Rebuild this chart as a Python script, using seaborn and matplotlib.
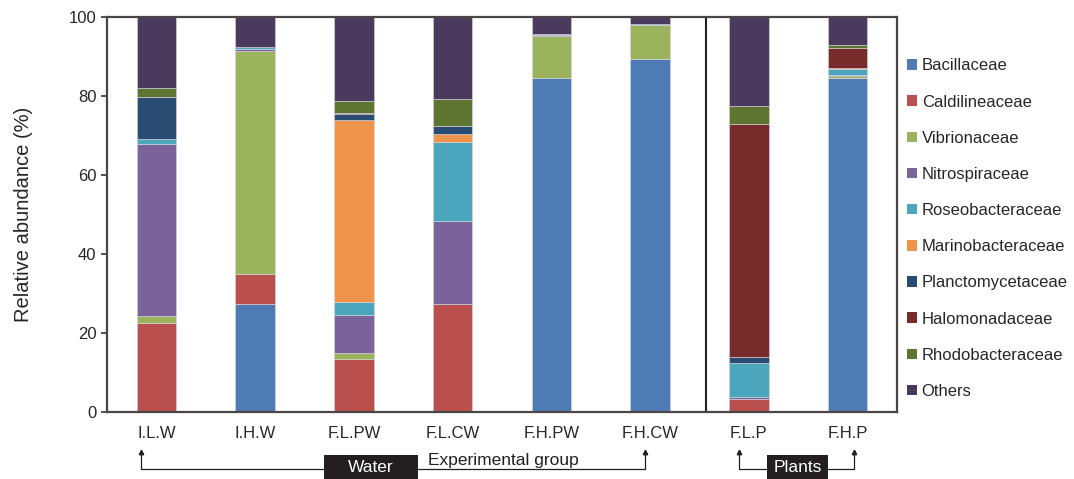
import numpy as np
import pandas as pd
import seaborn as sns
import matplotlib.pyplot as plt
from matplotlib.patches import Patch, Rectangle

groups = ["I.L.W", "I.H.W", "F.L.PW", "F.L.CW", "F.H.PW", "F.H.CW", "F.L.P", "F.H.P"]
families = ["Bacillaceae", "Caldilineaceae", "Vibrionaceae", "Nitrospiraceae",
            "Roseobacteraceae", "Marinobacteraceae", "Planctomycetaceae",
            "Halomonadaceae", "Rhodobacteraceae", "Others"]

bacillaceae       = [0.2, 27.3, 0.0, 0.0, 84.6, 89.4, 0.0, 84.5]
caldilineaceae    = [22.4, 7.6, 13.3, 27.3, 0.0, 0.0, 3.4, 0.0]
vibrionaceae      = [1.7, 56.6, 1.7, 0.0, 10.6, 8.5, 0.0, 0.6]
nitrospiraceae    = [43.5, 0.4, 9.5, 21.0, 0.2, 0.2, 0.4, 0.3]
roseobacteraceae  = [1.4, 0.4, 3.4, 20.0, 0.2, 0.1, 8.6, 1.4]
marinobacteraceae = [0.0, 0.0, 45.9, 2.1, 0.0, 0.0, 0.0, 0.2]
planctomycetaceae = [10.6, 0.0, 1.6, 1.9, 0.0, 0.0, 1.4, 0.0]
halomonadaceae    = [0.0, 0.0, 0.3, 0.0, 0.0, 0.0, 59.0, 5.2]
rhodobacteraceae  = [2.1, 0.0, 3.1, 6.9, 0.0, 0.0, 4.6, 0.8]
others            = [18.1, 7.7, 21.2, 20.8, 4.4, 1.8, 22.6, 7.0]

colors = ["#4E7BB3", "#B9504D", "#9AB35C", "#7A629B", "#4BA5BD",
          "#EF944A", "#2B4C72", "#772C2B", "#5E7431", "#4A3A5E"]

values = [bacillaceae, caldilineaceae, vibrionaceae, nitrospiraceae, roseobacteraceae,
          marinobacteraceae, planctomycetaceae, halomonadaceae, rhodobacteraceae, others]

sns.set_style("white")
plt.rcParams['font.family'] = ['Liberation Sans', 'DejaVu Sans']

fig = plt.figure(figsize=(10.74, 4.79), dpi=100)
ax = fig.add_axes([0.0996, 0.140, 0.7356, 0.8245])

bottom = np.zeros(len(groups))
for fam, vals, c in zip(families, values, colors):
    df = pd.DataFrame({"group": groups, "value": vals})
    sns.barplot(data=df, x="group", y="value", color=c, width=0.4, bottom=bottom,
                errorbar=None, saturation=1, edgecolor="#d8d8e0", linewidth=0.4, ax=ax)
    bottom = bottom + np.array(vals)

ax.set_ylim(0, 100)
ax.set_xlim(-0.5, len(groups) - 0.5)
ax.set_yticks([0, 20, 40, 60, 80, 100])
ax.set_xlabel("")
ax.set_ylabel("Relative abundance (%)", fontsize=14.5, labelpad=26)
ax.tick_params(axis="y", direction="out", length=4, width=1.2, left=True, labelsize=12, color="#333333")
ax.tick_params(axis="x", length=0, labelsize=12, pad=10)
for s in ax.spines.values():
    s.set_color("#4a4646")
    s.set_linewidth(1.6)
ax.axvline(5.57, color="#231f20", lw=1.5)

handles = [Patch(facecolor=c, edgecolor="none") for c in colors]
fig.legend(handles, families, loc="upper left", bbox_to_anchor=(0.838, 0.892),
           frameon=False, fontsize=12, handlelength=0.6, handleheight=0.6,
           handletextpad=0.3, labelspacing=1.27, borderaxespad=0)

# group brackets below the axis
W, H = 1074, 479

def bracket(x0, x1):
    y_line, y_top = 1 - 469 / H, 1 - 452 / H
    fig.add_artist(plt.Line2D([x0 / W, x0 / W, x1 / W, x1 / W], [y_top, y_line, y_line, y_top],
                              transform=fig.transFigure, color="#231f20", lw=0.9))
    for x in (x0, x1):
        fig.add_artist(plt.Line2D([x / W], [y_top], transform=fig.transFigure, marker="^",
                                  markersize=3.2, color="#231f20"))

def label_box(x0, x1, text):
    fig.add_artist(Rectangle((x0 / W, 0), (x1 - x0) / W, 24 / H, transform=fig.transFigure,
                             facecolor="#231f20", edgecolor="none"))
    fig.text((x0 + x1) / 2 / W, 1 - 467 / H, text, ha="center", va="center",
             color="white", fontsize=12.5)

bracket(141, 645)
bracket(739, 854)
label_box(324, 418, "Water")
label_box(767, 828, "Plants")
fig.text(503 / W, 1 - 461 / H, "Experimental group", ha="center", va="center",
         color="#231f20", fontsize=12.5)

fig.savefig("out.png", dpi=100)
